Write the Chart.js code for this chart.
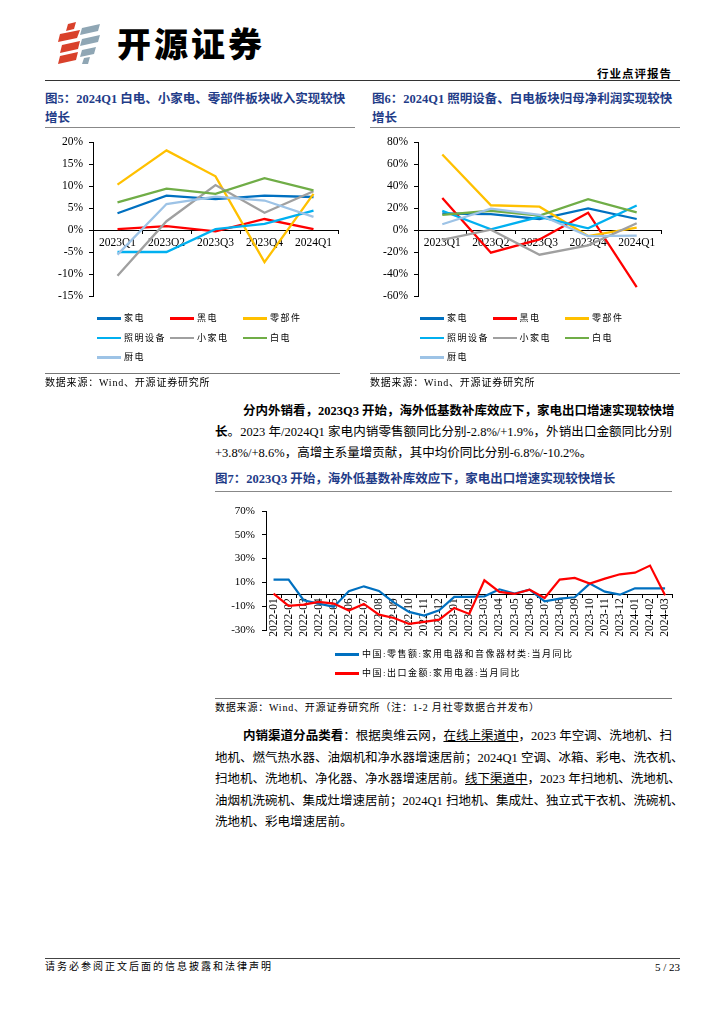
<!DOCTYPE html>
<html>
<head>
<meta charset="utf-8">
<script src="https://cdn.jsdelivr.net/npm/chart.js@4.4.1/dist/chart.umd.min.js"></script>
<style>
  body { margin: 0; width: 724px; height: 1024px; position: relative; overflow: hidden; background: #fff;
         font-family: "Liberation Serif", "Noto Sans CJK SC", serif; color: #000; }
  .abs { position: absolute; }
  .rule { position: absolute; height: 0; }
  .ftitle { position: absolute; font-weight: bold; font-size: 12.5px; line-height: 19px; color: #1f3c88; white-space: nowrap; }
  .src { position: absolute; font-size: 10px; letter-spacing: 0.8px; line-height: 14px; white-space: nowrap; }
  .ln { position: absolute; font-size: 12.5px; line-height: 20px; height: 20px; white-space: nowrap;
        text-align: justify; text-align-last: justify; }
  .ln.last { text-align: left; text-align-last: left; }
  .leg { position: absolute; font-size: 9px; letter-spacing: 1.5px; line-height: 14px; white-space: nowrap; }
  .leg i { position: absolute; top: 6px; width: 24px; height: 2.5px; }
  .leg span { position: absolute; left: 27px; top: 0; }
  canvas { position: absolute; }
</style>
</head>
<body>

<!-- 页眉 -->
<svg class="abs" style="left:56px;top:20px" width="48" height="46">
  <polygon points="12,4 20,2 18,9 10,11" fill="#d9412b"/>
  <polygon points="4,14 24,10 21,18 2,22" fill="#d9412b"/>
  <polygon points="6,25 24,21 22,29 4,33" fill="#d9412b"/>
  <polygon points="4,36 22,32 20,40 2,44" fill="#d9412b"/>
  <polygon points="26,8 44,4 42,11 24,15" fill="#8fa6b4"/>
  <polygon points="26,19 44,15 42,22 24,26" fill="#8fa6b4"/>
  <polygon points="26,30 40,27 38,34 24,37" fill="#8fa6b4"/>
  <polygon points="28,38 34,37 32,44 26,44" fill="#8fa6b4"/>
</svg>
<div class="abs" style="left:117px;top:19px;font:900 34px 'Noto Sans CJK SC';letter-spacing:3px;line-height:48px">开源证券</div>
<div class="abs" style="right:52px;top:65px;font:bold 11.5px 'Noto Sans CJK SC';letter-spacing:1px;line-height:16px">行业点评报告</div>
<div class="rule" style="left:45px;width:635px;top:80px;border-top:1.5px solid #333"></div>

<!-- 图5 / 图6 标题 -->
<div class="ftitle" style="left:45px;top:90px">图5：2024Q1 白电、小家电、零部件板块收入实现较快<br>增长</div>
<div class="ftitle" style="left:372px;top:90px">图6：2024Q1 照明设备、白电板块归母净利润实现较快<br>增长</div>
<div class="rule" style="left:45px;width:310px;top:127px;border-top:1.5px solid #888"></div>
<div class="rule" style="left:370px;width:310px;top:127px;border-top:1.5px solid #888"></div>

<canvas id="c5" width="304" height="186" style="left:40px;top:126px"></canvas>
<canvas id="c6" width="302" height="186" style="left:365px;top:126px"></canvas>
<div id="leg5"></div>
<div id="leg6"></div>

<div class="rule" style="left:45px;width:295px;top:373px;border-top:1.5px solid #777"></div>
<div class="rule" style="left:370px;width:310px;top:373px;border-top:1.5px solid #777"></div>
<div class="src" style="left:45px;top:376px">数据来源：Wind、开源证券研究所</div>
<div class="src" style="left:370px;top:376px">数据来源：Wind、开源证券研究所</div>

<!-- 正文一 -->
<div class="ln" style="left:243px;width:429px;top:401px;font-weight:bold">分内外销看，2023Q3 开始，海外低基数补库效应下，家电出口增速实现较快增</div>
<div class="ln" style="left:215px;width:457px;top:422px"><b>长</b>。2023 年/2024Q1 家电内销零售额同比分别-2.8%/+1.9%，外销出口金额同比分别</div>
<div class="ln last" style="left:215px;width:457px;top:443px">+3.8%/+8.6%，高增主系量增贡献，其中均价同比分别-6.8%/-10.2%。</div>

<!-- 图7 -->
<div class="ftitle" style="left:215px;top:470px">图7：2023Q3 开始，海外低基数补库效应下，家电出口增速实现较快增长</div>
<div class="rule" style="left:215px;width:457px;top:491px;border-top:1.5px solid #888"></div>
<canvas id="c7" width="470" height="155" style="left:210px;top:495px"></canvas>
<div id="leg7"></div>
<div class="rule" style="left:215px;width:457px;top:698px;border-top:1.5px solid #777"></div>
<div class="src" style="left:215px;top:701px">数据来源：Wind、开源证券研究所（注：1-2 月社零数据合并发布）</div>

<!-- 正文二 -->
<div class="ln" style="left:243px;width:429px;top:726px"><b>内销渠道分品类看</b>：根据奥维云网，<u>在线上渠道中</u>，2023 年空调、洗地机、扫</div>
<div class="ln" style="left:215px;width:457px;top:747.5px">地机、燃气热水器、油烟机和净水器增速居前；2024Q1 空调、冰箱、彩电、洗衣机、</div>
<div class="ln" style="left:215px;width:457px;top:769px">扫地机、洗地机、净化器、净水器增速居前。<u>线下渠道中</u>，2023 年扫地机、洗地机、</div>
<div class="ln" style="left:215px;width:457px;top:790.5px">油烟机洗碗机、集成灶增速居前；2024Q1 扫地机、集成灶、独立式干衣机、洗碗机、</div>
<div class="ln last" style="left:215px;width:457px;top:812px">洗地机、彩电增速居前。</div>

<!-- 页脚 -->
<div class="rule" style="left:45px;width:635px;top:958px;border-top:1.5px solid #444"></div>
<div class="abs" style="left:45px;top:960px;font-size:10px;letter-spacing:2px;line-height:14px">请务必参阅正文后面的信息披露和法律声明</div>
<div class="abs" style="right:44px;top:960px;font-size:11px;line-height:14px">5 / 23</div>

<script>
// 图5/图6 横轴
const quarters = ["2023Q1", "2023Q2", "2023Q3", "2023Q4", "2024Q1"];
const sectors = ["家电", "黑电", "零部件", "照明设备", "小家电", "白电", "厨电"];
const sectorColors = ["#0070c0", "#ff0000", "#ffc000", "#00b0f0", "#a0a0a0", "#70ad47", "#9dc3e6"];

// 图5：收入同比（%）
const revJiadian = [3.8, 7.8, 7.0, 7.8, 7.5];
const revHeidian = [0.2, 0.9, -0.3, 2.5, 0.2];
const revLingbujian = [10.3, 18.1, 12.2, -7.3, 8.2];
const revZhaoming = [-5.0, -5.0, 0.2, 1.4, 4.4];
const revXiaojiadian = [-10.4, 2.0, 10.2, 3.9, 8.8];
const revBaidian = [6.3, 9.4, 8.2, 11.8, 9.0];
const revChudian = [-5.6, 5.9, 7.6, 6.7, 3.0];

// 图6：归母净利润同比（%）
const npJiadian = [15.0, 14.5, 10.0, 19.7, 10.0];
const npHeidian = [29.0, -20.6, -8.6, 15.7, -52.0];
const npLingbujian = [68.6, 22.5, 21.2, -5.5, 2.2];
const npZhaoming = [17.5, 0.6, 12.0, 1.5, 22.2];
const npXiaojiadian = [-9.0, 0.3, -22.5, -14.0, 6.2];
const npBaidian = [13.8, 17.5, 13.0, 28.0, 16.0];
const npChudian = [5.2, 19.4, 13.8, -5.5, -5.2];

// 图7：月度同比（%）
const months = ["2022-01", "2022-02", "2022-03", "2022-04", "2022-05", "2022-06", "2022-07", "2022-08", "2022-09",
  "2022-10", "2022-11", "2022-12", "2023-01", "2023-02", "2023-03", "2023-04", "2023-05", "2023-06", "2023-07",
  "2023-08", "2023-09", "2023-10", "2023-11", "2023-12", "2024-01", "2024-02", "2024-03"];
const retailYoy = [12.3, 12.3, -5.0, -7.8, -10.6, 2.5, 6.7, 2.8, -7.0, -14.8, -17.9, -13.4, -2.2, -2.2, -1.7,
  4.2, 0.6, 3.9, -5.9, -3.6, -2.5, 9.0, 2.2, -0.3, 5.0, 5.0, 5.0];
const exportYoy = [0.6, -9.8, -8.7, -6.4, -7.8, -13.7, -8.1, -17.1, -19.9, -24.9, -23.2, -21.3, -11.5, -16.5, 11.8,
  2.0, 0.3, 3.9, -3.1, 12.3, 13.7, 9.0, 13.2, 16.8, 18.2, 24.1, -0.8];
const seriesNames7 = ["中国:零售额:家用电器和音像器材类:当月同比", "中国:出口金额:家用电器:当月同比"];
const seriesColors7 = ["#0070c0", "#ff0000"];

const tickFont = { family: "'Liberation Serif', serif", size: 11.5 };

function makeChart(id, labels, names, colors, values, y, opts) {
  const datasets = values.map((v, i) => ({
    label: names[i],
    data: v,
    borderColor: colors[i],
    backgroundColor: colors[i],
    borderWidth: opts.lineWidth,
    pointRadius: 0,
    tension: 0,
    fill: false,
    order: values.length - i
  }));
  return new Chart(document.getElementById(id), {
    type: "line",
    data: { labels: labels, datasets: datasets },
    options: {
      responsive: false,
      animation: false,
      layout: { padding: opts.padding },
      plugins: { legend: { display: false }, tooltip: { enabled: false } },
      scales: {
        x: {
          position: { y: 0 },
          offset: true,
          grid: { drawOnChartArea: false, drawTicks: true, tickLength: 3, color: "#000", offset: true },
          border: { color: "#000", width: 1 },
          ticks: {
            font: opts.xFont, color: "#000", padding: opts.xPad, autoSkip: false,
            minRotation: opts.rot, maxRotation: opts.rot
          }
        },
        y: {
          min: y[0], max: y[1],
          ticks: { stepSize: y[2], font: opts.yFont, color: "#000", padding: opts.yPad, callback: v => v + "%" },
          grid: { drawOnChartArea: false, tickLength: 4, color: "#000" },
          border: { color: "#000", width: 1 },
          afterFit: s => { s.width = opts.yWidth; }
        }
      }
    }
  });
}

function makeLegend(id, names, colors, left, top, colW, rowH, perRow) {
  const box = document.getElementById(id);
  names.forEach((n, i) => {
    const d = document.createElement("div");
    d.className = "leg";
    d.style.left = (left + (i % perRow) * colW) + "px";
    d.style.top = (top + Math.floor(i / perRow) * rowH) + "px";
    d.innerHTML = '<i style="background:' + colors[i] + '"></i><span>' + n + "</span>";
    box.appendChild(d);
  });
}

const smallOpts = { lineWidth: 2.3, padding: { top: 16, bottom: 16, left: 0, right: 6 }, xFont: tickFont, xPad: 3,
  rot: 0, yFont: tickFont, yPad: 6, yWidth: 53 };

makeChart("c5", quarters, sectors, sectorColors,
  [revJiadian, revHeidian, revLingbujian, revZhaoming, revXiaojiadian, revBaidian, revChudian],
  [-15, 20, 5], smallOpts);
makeChart("c6", quarters, sectors, sectorColors,
  [npJiadian, npHeidian, npLingbujian, npZhaoming, npXiaojiadian, npBaidian, npChudian],
  [-60, 80, 20], smallOpts);
makeChart("c7", months, seriesNames7, seriesColors7, [retailYoy, exportYoy], [-30, 70, 20], {
  lineWidth: 2.2, padding: { top: 16, bottom: 20, left: 0, right: 6 },
  xFont: { family: "'Liberation Serif', serif", size: 11.5 }, xPad: 1, rot: 90,
  yFont: { family: "'Liberation Serif', serif", size: 11 }, yPad: 7, yWidth: 56
});

makeLegend("leg5", sectors, sectorColors, 97, 311, 73, 19.5, 3);
makeLegend("leg6", sectors, sectorColors, 420, 311, 72.5, 19.5, 3);
makeLegend("leg7", seriesNames7, seriesColors7, 335, 647, 0, 19, 1);
</script>
</body>
</html>
